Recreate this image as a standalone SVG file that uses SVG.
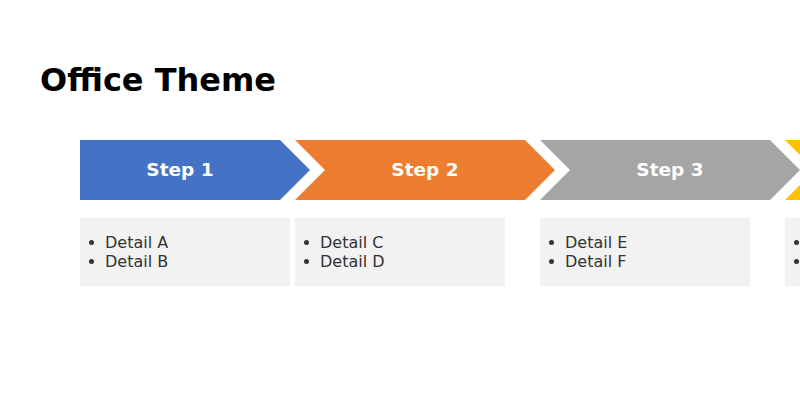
<svg xmlns="http://www.w3.org/2000/svg" width="800" height="400" viewBox="0 0 800 400">
<style>
.title{font-family:"DejaVu Sans",Verdana,sans-serif;font-weight:bold;font-size:32px;fill:#000}
.step{font-family:"DejaVu Sans",Verdana,sans-serif;font-weight:bold;font-size:18.5px;fill:#fff;text-anchor:middle}
.det{fill:#f2f2f2}
.dt{font-family:"DejaVu Sans",Verdana,sans-serif;font-size:16px;fill:#333}
.bl{fill:#333}
</style>
<rect width="800" height="400" fill="#fff"/>
<text class="title" x="40" y="91">Office Theme</text>
<g id="step1">
<polygon points="80,140 280,140 310,170 280,200 80,200" fill="#4472c4"/>
<text class="step" x="180" y="176">Step 1</text>
</g>
<g id="step2">
<polygon points="295,140 525,140 555,170 525,200 295,200 325,170" fill="#ed7d31"/>
<text class="step" x="425" y="176">Step 2</text>
</g>
<g id="step3">
<polygon points="540,140 770,140 800,170 770,200 540,200 570,170" fill="#a5a5a5"/>
<text class="step" x="670" y="176">Step 3</text>
</g>
<g id="step4">
<polygon points="785,140 1015,140 1045,170 1015,200 785,200 815,170" fill="#ffc000"/>
</g>
<g id="detail1">
<rect class="det" x="80" y="218" width="210" height="68"/>
<circle class="bl" cx="91.5" cy="242.5" r="2.5"/><text class="dt" x="105" y="248">Detail A</text>
<circle class="bl" cx="91.5" cy="261.5" r="2.5"/><text class="dt" x="105" y="267">Detail B</text>
</g>
<g id="detail2">
<rect class="det" x="295" y="218" width="210" height="68"/>
<circle class="bl" cx="306.5" cy="242.5" r="2.5"/><text class="dt" x="320" y="248">Detail C</text>
<circle class="bl" cx="306.5" cy="261.5" r="2.5"/><text class="dt" x="320" y="267">Detail D</text>
</g>
<g id="detail3">
<rect class="det" x="540" y="218" width="210" height="68"/>
<circle class="bl" cx="551.5" cy="242.5" r="2.5"/><text class="dt" x="565" y="248">Detail E</text>
<circle class="bl" cx="551.5" cy="261.5" r="2.5"/><text class="dt" x="565" y="267">Detail F</text>
</g>
<g id="detail4">
<rect class="det" x="785" y="218" width="210" height="68"/>
<circle class="bl" cx="796.5" cy="242.5" r="2.5"/>
<circle class="bl" cx="796.5" cy="261.5" r="2.5"/>
</g>
<g id="connectors"></g>
</svg>
